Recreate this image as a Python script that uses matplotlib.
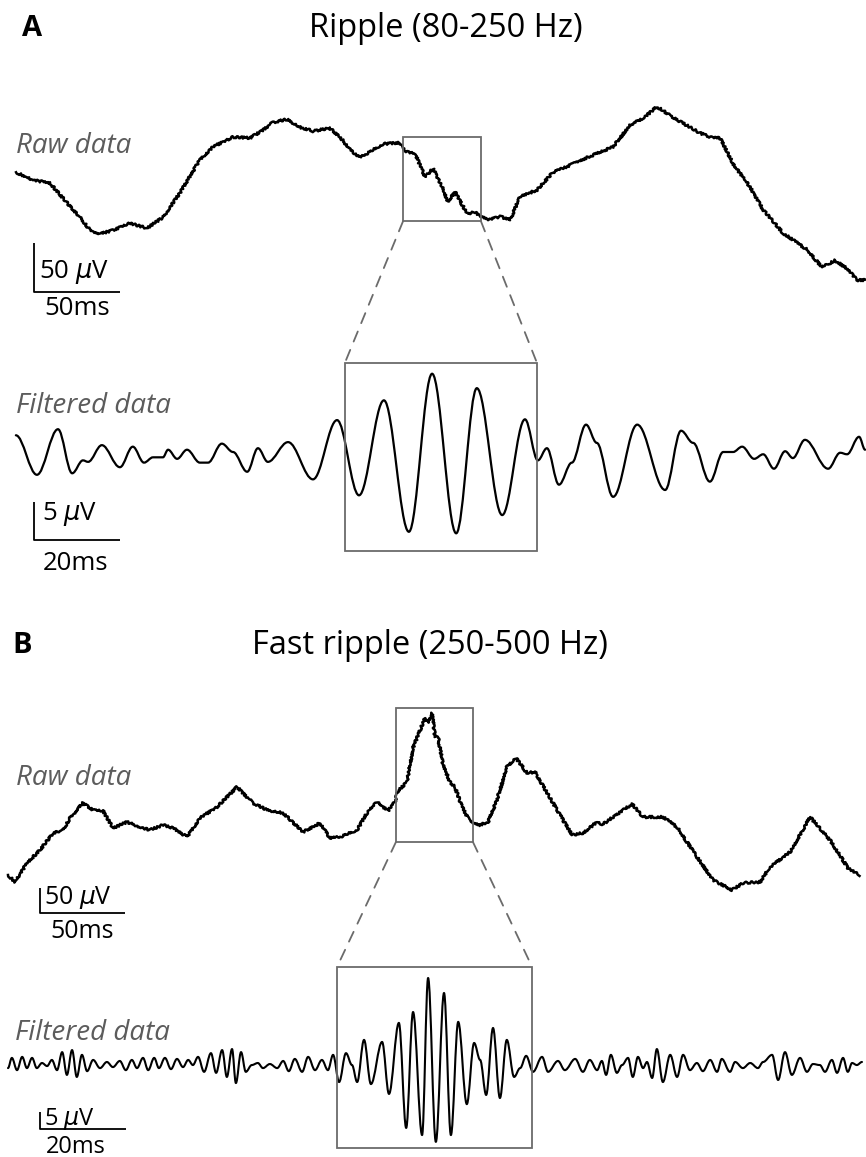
import numpy as np
import matplotlib
matplotlib.use("Agg")
import matplotlib.pyplot as plt
from matplotlib.path import Path
from matplotlib.patches import PathPatch, Rectangle, ConnectionPatch

plt.rcParams['font.family'] = ['Open Sans', 'DejaVu Sans']
plt.rcParams['mathtext.fontset'] = 'dejavusans'

W, H = 866, 1157

# (time ms, amplitude uV)
raw_a = np.array([
    (0.6, 64), (10.5, 56), (20.3, 53), (30.2, 33), (37.8, 18), (43.6, 5), (49.4, 1),
    (57.0, 5), (66.9, 12), (76.7, 7), (86.0, 18), (95.9, 43), (107.6, 77), (115.1, 90),
    (126.7, 100), (136.6, 99), (142.4, 105), (150.0, 115), (158.1, 118), (165.7, 110),
    (173.3, 106), (183.1, 109), (189.0, 100), (194.8, 87), (200.6, 79), (206.4, 85),
    (214.0, 93), (223.8, 94), (226.7, 85), (232.6, 83), (238.4, 59), (243.0, 68),
    (248.3, 49), (251.7, 34), (255.8, 44), (262.8, 22), (267.4, 23), (270.3, 20),
    (275.0, 15), (282.0, 19), (287.8, 15), (293.6, 39), (303.5, 46), (312.8, 64),
    (318.6, 68), (332.6, 79), (347.7, 90), (357.6, 112), (365.1, 119), (373.3, 131),
    (380.8, 122), (388.4, 114), (398.3, 104), (405.8, 99), (409.9, 99), (417.4, 73),
    (427.3, 49), (434.9, 26), (446.5, 2), (460.5, -15), (469.2, -33), (476.7, -26),
    (483.7, -34), (489.5, -46), (494.2, -46),
])

filt_a = np.array([
    (0.2, 2.2), (5.1, -3.0), (10.0, 3.0), (13.3, -2.8), (15.8, -1.1), (17.0, -1.3),
    (20.2, 0.9), (24.4, -2.0), (27.4, 0.7), (30.0, -1.4), (32.1, -0.7), (34.4, -0.7),
    (35.6, 0.3), (37.7, -0.9), (40.0, 0.3), (43.0, -1.4), (44.9, -1.4), (48.1, 1.1),
    (50.7, 0.0), (54.0, -2.6), (56.5, 0.5), (58.8, -1.3), (63.5, 1.3), (69.3, -3.6),
    (74.9, 4.2), (80.0, -5.7), (85.8, 6.8), (91.6, -10.5), (97.0, 10.3), (102.6, -10.7),
    (107.4, 8.4), (113.3, -8.3), (118.6, 4.3), (121.6, -1.1), (123.7, 0.5), (126.5, -4.3),
    (129.5, -1.4), (132.8, 3.6), (135.3, 1.2), (139.1, -5.9), (144.7, 3.6), (151.2, -5.0),
    (154.9, 2.8), (157.7, 1.2), (161.6, -3.9), (164.7, 0.0), (167.0, 0.0), (169.1, 0.7),
    (171.9, -0.9), (174.0, -0.3), (176.5, -2.2), (179.1, 0.1), (180.9, -0.8), (183.7, 1.6),
    (189.1, -2.2), (191.9, -0.1), (193.5, -0.3), (196.3, 2.0), (197.7, 0.3),
])

raw_b = np.array([
    (0.0, 14), (4.1, 0), (11.2, 38), (18.8, 64), (26.5, 98), (32.4, 104), (36.5, 128),
    (44.1, 158), (50.0, 144), (55.9, 142), (61.8, 108), (70.0, 120), (79.4, 108),
    (83.5, 104), (91.2, 114), (97.1, 108), (105.3, 90), (112.9, 128), (122.9, 150),
    (134.7, 190), (144.1, 158), (152.4, 144), (161.8, 138), (173.5, 100), (183.5, 118),
    (189.4, 88), (195.3, 90), (205.3, 104), (211.2, 138), (217.1, 160), (223.5, 142),
    (227.6, 160), (229.4, 182), (234.7, 200), (238.2, 268), (242.4, 304), (245.3, 328),
    (247.1, 318), (249.4, 338), (251.2, 290), (252.9, 290), (255.9, 234), (260.0, 200),
    (262.9, 190), (267.1, 150), (271.8, 120), (277.6, 114), (282.4, 120), (287.6, 164),
    (293.5, 230), (298.8, 248), (305.3, 218), (310.0, 220), (317.1, 178), (326.5, 124),
    (331.8, 94), (338.2, 98), (346.5, 120), (349.4, 114), (355.9, 130), (367.1, 156),
    (373.5, 130), (385.3, 130), (393.5, 110), (405.3, 50), (414.7, 4), (425.9, -16),
    (432.4, -2), (442.4, 0), (448.2, 30), (460.0, 60), (471.8, 130), (483.5, 84),
    (494.1, 28), (501.2, 14),
])

filt_b = np.array([
    (0.0, -1.5), (0.9, 1.5), (2.1, -2.1), (3.3, 1.8), (4.4, -1.5), (5.6, 1.5), (6.7, -1.5),
    (7.9, 0.0), (9.1, -0.9), (10.2, 0.9), (11.4, -2.1), (12.6, 3.2), (13.7, -3.5),
    (14.9, 3.8), (16.0, -4.1), (17.2, 2.4), (18.4, -2.4), (19.8, 0.9), (21.4, -1.5),
    (23.0, 0.3), (24.4, -1.2), (26.0, 0.6), (27.4, -2.1), (28.8, 0.9), (30.0, -1.5),
    (31.4, 1.5), (32.6, -2.1), (34.0, 1.5), (35.1, -1.5), (36.5, 1.5), (37.9, -1.8),
    (39.3, 1.2), (40.7, -1.2), (41.9, 0.9), (43.0, -0.6), (44.2, 1.8), (45.6, -2.6),
    (47.2, 2.9), (48.4, -2.9), (49.8, 3.8), (50.9, -4.1), (52.1, 4.1), (53.0, -5.9),
    (54.2, 3.2), (55.3, -2.6), (56.7, -0.6), (58.1, 0.0), (59.3, -1.5), (60.9, -0.3),
    (62.6, -1.5), (64.0, 0.6), (65.3, -2.4), (66.7, 1.2), (68.4, -2.6), (69.8, 1.8),
    (71.4, -2.1), (73.0, 0.9), (74.4, -2.1), (75.6, 2.4), (77.0, -5.6), (78.6, 2.9),
    (80.0, -0.6), (81.2, -5.6), (82.8, 6.8), (84.4, -6.2), (87.0, 6.2), (88.6, -9.1),
    (90.9, 11.8), (92.6, -19.1), (94.2, 15.0), (96.3, -21.2), (97.7, 25.0), (99.5, -23.2),
    (101.4, 20.6), (103.0, -21.2), (104.7, 12.1), (106.7, -12.1), (108.4, 5.9),
    (109.8, 0.9), (111.2, -9.4), (112.8, 10.3), (114.4, -10.3), (116.0, 6.8),
    (117.7, -4.1), (119.1, -1.5), (120.5, 2.1), (122.1, -2.6), (124.2, 1.8), (125.6, -2.6),
    (127.9, 0.6), (129.5, -2.1), (131.9, 1.2), (133.7, -2.6), (135.3, 0.9), (137.0, -2.1),
    (138.1, 0.6), (139.1, -3.5), (140.2, 2.4), (141.6, -2.9), (142.8, -0.6), (144.2, 1.5),
    (145.3, -4.1), (146.5, 1.8), (147.7, -1.5), (148.6, 0.3), (149.8, -4.4), (150.9, 4.1),
    (152.3, -5.6), (154.0, 2.4), (155.6, -4.1), (157.0, 2.4), (158.6, -2.1), (160.2, 0.0),
    (161.6, -2.4), (163.3, 0.9), (164.9, -2.6), (166.0, 1.2), (167.9, -2.6), (169.1, 0.3),
    (170.9, -1.5), (172.6, 0.0), (174.4, -1.5), (175.6, 0.3), (177.7, 2.4), (179.1, -5.0),
    (180.7, 3.2), (182.3, -3.5), (184.2, 1.5), (185.8, -2.6), (187.2, -0.3), (188.8, -0.6),
    (190.0, -2.6), (191.6, 0.9), (192.8, -2.9), (194.2, 1.5), (195.3, -2.6), (196.3, 0.0),
    (197.4, -0.6), (198.6, 0.3),
])

# zoom windows: (t_start, t_end, v_low, v_high)
box_raw_a = (225.6, 270.9, 14, 100)
box_filt_a = (76.7, 121.4, -13.0, 11.7)
box_raw_b = (228.2, 273.5, 80, 348)
box_filt_b = (76.5, 121.9, -25.0, 28.2)

fig = plt.figure(figsize=(W / 100, H / 100), dpi=100)


def px(x, y):
    return x / W, 1 - y / H


def panel(x0, sx, y0, sy, top, bottom):
    # full-width axes; x0/y0 = pixel of t=0 / v=0, sx/sy = pixels per unit
    ax = fig.add_axes([0, 1 - bottom / H, 1, (bottom - top) / H])
    ax.set_xlim(-x0 / sx, (W - x0) / sx)
    ax.set_ylim((y0 - bottom) / sy, (y0 - top) / sy)
    ax.axis('off')
    return ax


def raw_trace(ax, data):
    line, = ax.plot(data[:, 0], data[:, 1], color='black', lw=1.8,
                    solid_joinstyle='round')
    # unfiltered signal: small wobble on the line
    line.set_sketch_params(scale=1.1, length=2.5, randomness=3)


def smooth_trace(ax, data, lw=1.6):
    t, v = data[:, 0], data[:, 1]
    verts = [(t[0], v[0])]
    codes = [Path.MOVETO]
    for i in range(1, len(t)):
        d = t[i] - t[i - 1]
        verts += [(t[i - 1] + 0.36 * d, v[i - 1]), (t[i] - 0.36 * d, v[i]), (t[i], v[i])]
        codes += [Path.CURVE4] * 3
    ax.add_patch(PathPatch(Path(verts, codes), fill=False, lw=lw, color='black',
                           capstyle='round', joinstyle='round'))


def scale_bar(ax, t0, v0, dt, dv):
    ax.plot([t0, t0, t0 + dt], [v0 + dv, v0, v0], color='black', lw=1.3,
            solid_capstyle='butt')


def box(ax, b):
    ax.add_patch(Rectangle((b[0], b[2]), b[1] - b[0], b[3] - b[2], fill=False,
                           ec='#6b6b6b', lw=1.3, zorder=3))


def connect(ax_top, ax_bot, b_top, b_bot):
    for i in (0, 1):
        con = ConnectionPatch(xyA=(b_top[i], b_top[2]), coordsA=ax_top.transData,
                              xyB=(b_bot[i], b_bot[3]), coordsB=ax_bot.transData,
                              color='#6b6b6b', lw=1.3, linestyle=(0, (6, 5)))
        fig.add_artist(con)


gray = '#5c5c5c'

# Panel A
ax_ra = panel(15, 1.72, 235, 0.98, 80, 300)
raw_trace(ax_ra, raw_a)
box(ax_ra, box_raw_a)
scale_bar(ax_ra, 11.0, -58, 50, 50)

ax_fa = panel(15, 4.3, 452, 7.6, 330, 580)
smooth_trace(ax_fa, filt_a)
box(ax_fa, box_filt_a)
scale_bar(ax_fa, 4.4, -11.6, 20, 5)
connect(ax_ra, ax_fa, box_raw_a, box_filt_a)

# Panel B
ax_rb = panel(8, 1.70, 882, 0.5, 690, 920)
raw_trace(ax_rb, raw_b)
box(ax_rb, box_raw_b)
scale_bar(ax_rb, 18.8, -62, 50, 50)

ax_fb = panel(8, 4.3, 1063, 3.4, 955, 1157)
smooth_trace(ax_fb, filt_b, lw=1.5)
box(ax_fb, box_filt_b)
scale_bar(ax_fb, 7.4, -19.4, 20, 5)
connect(ax_rb, ax_fb, box_raw_b, box_filt_b)

# Labels
fig.text(*px(22, 36), 'A', fontsize=21, fontweight='bold', va='baseline')
fig.text(*px(446, 37), 'Ripple (80-250 Hz)', fontsize=23.5, ha='center', va='baseline')
fig.text(*px(12, 653), 'B', fontsize=21, fontweight='bold', va='baseline')
fig.text(*px(430, 654), 'Fast ripple (250-500 Hz)', fontsize=23.5, ha='center',
         va='baseline')

for x, y, s in [(16, 153, 'Raw data'), (16, 413, 'Filtered data'),
                (16, 785, 'Raw data'), (15, 1040, 'Filtered data')]:
    fig.text(*px(x, y), s, fontsize=20, style='italic', color=gray, va='baseline')

# scale bar captions
for x, y, s, fs in [(39, 278, r'50 $\mu$V', 18.5), (42, 520, r'5 $\mu$V', 18.5),
                    (44, 904, r'50 $\mu$V', 18), (44, 1125, r'5 $\mu$V', 17)]:
    fig.text(*px(x, y), s, fontsize=fs, va='baseline')

for x, y, s, fs in [(77, 315, '50ms', 18.5), (76, 570, '20ms', 18.5),
                    (82, 938, '50ms', 18), (76, 1153, '20ms', 17)]:
    fig.text(*px(x, y), s, fontsize=fs, ha='center', va='baseline')

fig.savefig('out.png', dpi=100)
